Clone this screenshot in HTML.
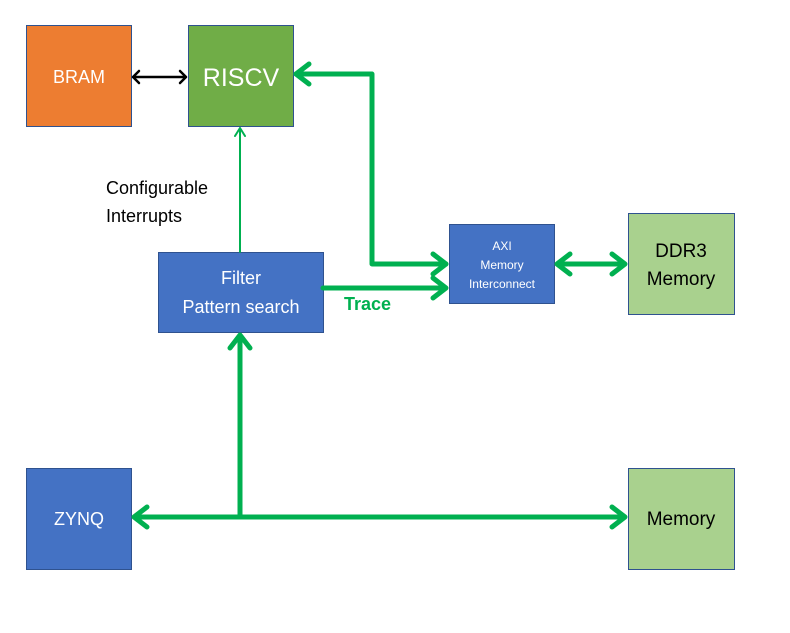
<!DOCTYPE html>
<html><head><style>
body{margin:0;background:#fff;}
svg text{font-family:"Liberation Sans",sans-serif;}
</style></head><body>
<svg width="790" height="628" xmlns="http://www.w3.org/2000/svg">
<rect width="790" height="628" fill="#fff"/>
<g stroke="#2f528f" stroke-width="1">
<rect x="26.5" y="25.5" width="105" height="101" fill="#ed7d31"/>
<rect x="188.5" y="25.5" width="105" height="101" fill="#70ad47"/>
<rect x="158.5" y="252.5" width="165" height="80" fill="#4472c4"/>
<rect x="449.5" y="224.5" width="105" height="79" fill="#4472c4"/>
<rect x="628.5" y="213.5" width="106" height="101" fill="#a9d18e"/>
<rect x="26.5" y="468.5" width="105" height="101" fill="#4472c4"/>
<rect x="628.5" y="468.5" width="106" height="101" fill="#a9d18e"/>
</g>
<g fill="none" stroke-linecap="round" stroke-linejoin="round">
<path d="M133 77H186M139 71L133 77L139 83M180 71L186 77L180 83" stroke="#000" stroke-width="2.5"/>
<path d="M240 252V128M235 136L240 128L245 136" stroke="#00b050" stroke-width="2"/>
<g stroke="#00b050" stroke-width="5">
<path d="M446 264H372V74H296"/><path d="M309 64L296 74L309 84"/>
<path d="M433 254L446 264L433 274"/>
<path d="M323 288H446M433 278L446 288L433 298"/>
<path d="M557 264H625M570 254L557 264L570 274M612 254L625 264L612 274"/>
<path d="M134 517H625M147 507L134 517L147 527M612 507L625 517L612 527"/>
<path d="M240 517V335M230 348L240 335L250 348"/>
</g>
</g>
<g text-anchor="middle" fill="#fff">
<text x="79" y="83" font-size="18">BRAM</text>
<text x="241" y="86" font-size="25">RISCV</text>
<text x="241" y="284" font-size="18">Filter</text>
<text x="241" y="313" font-size="18">Pattern search</text>
<text x="502" y="250" font-size="12">AXI</text>
<text x="502" y="269" font-size="12">Memory</text>
<text x="502" y="288" font-size="12">Interconnect</text>
<text x="79" y="525" font-size="18">ZYNQ</text>
</g>
<g text-anchor="middle" fill="#000" font-size="19">
<text x="681" y="257">DDR3</text>
<text x="681" y="285">Memory</text>
<text x="681" y="525">Memory</text>
</g>
<text x="106" y="194" font-size="18">Configurable</text>
<text x="106" y="222" font-size="18">Interrupts</text>
<text x="344" y="310" font-size="18" font-weight="bold" fill="#00b050">Trace</text>
</svg>
</body></html>
